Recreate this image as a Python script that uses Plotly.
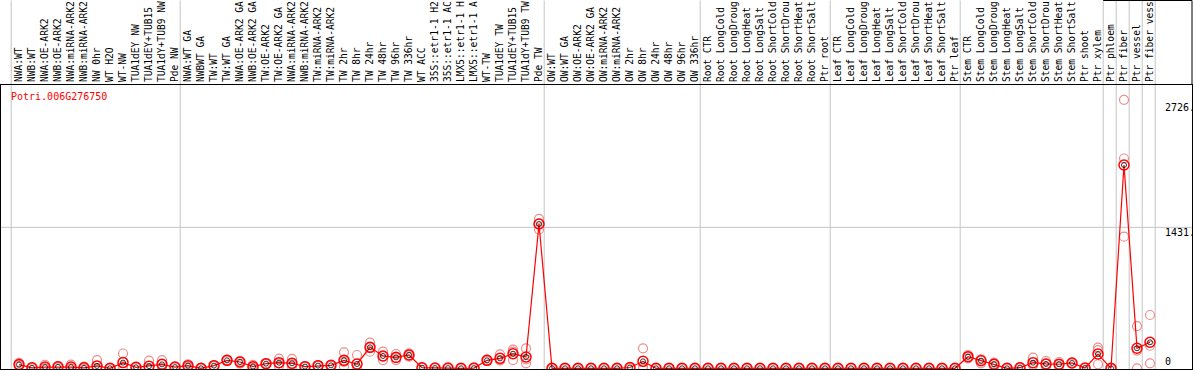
import plotly.graph_objects as go

# ---------------- data ----------------
labels = [
    "NWA:WT", "NWB:WT", "NWA:OE-ARK2", "NWB:OE-ARK2", "NWA:miRNA-ARK2", "NWB:miRNA-ARK2",
    "NW 0hr", "WT H2O", "WT-NW", "TUA1dEY NW", "TUA1dEY+TUB15", "TUA1dY+TUB9 NW", "Pde NW",
    "NWA:WT GA", "NWBWT GA", "TW:WT", "TW:WT GA", "NWA:OE-ARK2 GA", "NWB:OE-ARK2 GA",
    "TW:OE-ARK2", "TW:OE-ARK2 GA", "NWA:miRNA-ARK2", "NWB:miRNA-ARK2", "TW:miRNA-ARK2",
    "TW:miRNA-ARK2", "TW 2hr", "TW 8hr", "TW 24hr", "TW 48hr", "TW 96hr", "TW 336hr",
    "WT ACC", "35S::etr1-1 H2", "35S::etr1-1 AC", "LMX5::etr1-1 H", "LMX5::etr1-1 A",
    "WT-TW", "TUA1dEY TW", "TUA1dEY+TUB15", "TUA1dY+TUB9 TW", "Pde TW",
    "OW:WT", "OW:WT GA", "OW:OE-ARK2", "OW:OE-ARK2 GA", "OW:miRNA-ARK2", "OW:miRNA-ARK2",
    "OW 2hr", "OW 8hr", "OW 24hr", "OW 48hr", "OW 96hr", "OW 336hr",
    "Root CTR", "Root LongCold", "Root LongDroug", "Root LongHeat", "Root LongSalt",
    "Root ShortCold", "Root ShortDrou", "Root ShortHeat", "Root ShortSalt", "Ptr root",
    "Leaf CTR", "Leaf LongCold", "Leaf LongDroug", "Leaf LongHeat", "Leaf LongSalt",
    "Leaf ShortCold", "Leaf ShortDrou", "Leaf ShortHeat", "Leaf ShortSalt", "Ptr leaf",
    "Stem CTR", "Stem LongCold", "Stem LongDroug", "Stem LongHeat", "Stem LongSalt",
    "Stem ShortCold", "Stem ShortDrou", "Stem ShortHeat", "Stem ShortSalt", "Ptr shoot",
    "Ptr xylem", "Ptr phloem", "Ptr fiber", "Ptr vessel", "Ptr fiber vess",
]

means = [
    38, 5, 12, 15, 12, 5, 24, 0, 58, 10, 22, 40, 12,
    27, 0, 27, 81, 64, 17, 47, 57, 51, 17, 27, 30, 81, 44, 213, 125, 111, 135,
    6, 3, 2, 0, 2, 81, 101, 148, 115, 1465,
    0, 0, 0, 0, 0, 0, 8, 71, 0, 0, 0, 0,
    0, 0, 0, 0, 0, 0, 0, 0, 0, 0,
    0, 0, 0, 0, 0, 0, 0, 0, 0, 0,
    118, 77, 41, 0, 6, 57, 44, 41, 54, 3,
    145, 0, 2064, 203, 264,
]

rep1 = [
    55, 8, 36, 22, 38, 16, 84, 0, 150, 12, 78, 82, 15,
    41, 0, 30, 85, 74, 34, 50, 98, 95, 20, 30, 33, 162, 135, 260, 169, 145, 152,
    8, 4, 3, 0, 3, 88, 142, 190, 203, 1516,
    0, 0, 0, 0, 0, 0, 10, 203, 0, 0, 0, 0,
    0, 0, 0, 0, 0, 0, 0, 0, 0, 0,
    0, 0, 0, 0, 0, 0, 0, 0, 0, 0,
    135, 91, 57, 0, 10, 108, 74, 64, 58, 5,
    209, 0, 2726, 429, 541,
]

rep2 = [
    35, 5, 0, 15, 0, 0, 0, 0, 20, 10, 0, 41, 12,
    20, 0, 27, 80, 70, 12, 47, 50, 40, 17, 27, 30, 65, 0, 210, 122, 105, 135,
    6, 3, 2, 0, 2, 80, 81, 169, 91, 1470,
    0, 0, 0, 0, 0, 0, 6, 16, 0, 0, 0, 0,
    0, 0, 0, 0, 0, 0, 0, 0, 0, 0,
    0, 0, 0, 0, 0, 0, 0, 0, 0, 0,
    118, 89, 43, 0, 6, 33, 44, 40, 54, 3,
    185, 0, 2130, 180, 229,
]

rep3 = [
    25, 2, 0, 8, 0, 0, 0, 0, 5, 8, 0, 0, 9,
    12, 0, 24, 78, 48, 5, 44, 23, 18, 14, 24, 27, 16, 0, 169, 84, 84, 118,
    4, 2, 1, 0, 1, 75, 80, 84, 51, 1410,
    0, 0, 0, 0, 0, 0, 2, 0, 0, 0, 0, 0,
    0, 0, 0, 0, 0, 0, 0, 0, 0, 0,
    0, 0, 0, 0, 0, 0, 0, 0, 0, 0,
    101, 51, 23, 0, 2, 30, 14, 19, 50, 1,
    41, 0, 1336, 0, 51,
]

title_text = "Potri.006G276750"
ytick_vals = [2726, 1431, 0]
ytick_text = ["2726.", "1431.", "0"]
group_breaks = [-0.6, 12.4, 40.4, 52.4, 62.4, 72.4, 83.4, 84.4, 85.4, 86.4, 87.4]

# ---------------- figure ----------------
W, H = 1194, 370
ML, MR, MT, MB = 1, 2, 85, 1
PW = W - ML - MR
PH = H - MT - MB
X0PX, DX = 19, 13.0          # pixel of first sample, pixel spacing
ZERO_PX, PXU = 368.3, 0.0985  # pixel of y=0, pixels per unit

def py_paper(p):
    return (H - MB - p) / PH

idx = list(range(len(labels)))
x_lo = (ML - X0PX) / DX
x_hi = (ML + PW - X0PX) / DX
y_lo = (ZERO_PX - (H - MB)) / PXU
y_hi = (ZERO_PX - MT) / PXU

mono = "DejaVu Sans Mono"

fig = go.Figure()

rep_x, rep_y = [], []
for reps in (rep1, rep2, rep3):
    rep_x += idx
    rep_y += reps

fig.add_trace(go.Scatter(
    x=rep_x, y=rep_y, mode="markers", showlegend=False, hoverinfo="skip",
    marker=dict(symbol="circle-open", size=9, color="rgb(238,140,140)",
                line=dict(width=1.2)),
))
fig.add_trace(go.Scatter(
    x=idx, y=means, mode="lines+markers", showlegend=False,
    line=dict(color="red", width=1.2),
    marker=dict(symbol="circle-open", size=10, color="red", line=dict(width=1.5)),
))
fig.add_trace(go.Scatter(
    x=idx, y=means, mode="markers", showlegend=False, hoverinfo="skip",
    marker=dict(symbol="circle-open", size=5, color="black", line=dict(width=0.8)),
))

shapes = []
top_paper = py_paper(0.5)
for s in group_breaks:
    shapes.append(dict(type="line", xref="x", yref="paper", x0=s, x1=s,
                       y0=0, y1=top_paper, line=dict(color="#c4c4c4", width=1),
                       layer="below"))
shapes.append(dict(type="line", xref="paper", yref="y", x0=0, x1=1,
                   y0=ytick_vals[1], y1=ytick_vals[1],
                   line=dict(color="#c4c4c4", width=1), layer="below"))
shapes.append(dict(type="line", xref="x", yref="paper", x0=group_breaks[6], x1=x_hi,
                   y0=top_paper, y1=top_paper, line=dict(color="black", width=1)))
shapes.append(dict(type="line", xref="paper", yref="paper", x0=1, x1=1,
                   y0=1, y1=top_paper, line=dict(color="black", width=1)))

annotations = [dict(
    text=title_text, xref="paper", yref="paper",
    x=(9 - ML) / PW, y=py_paper(96.5), xanchor="left", yanchor="middle",
    showarrow=False, font=dict(family=mono, size=10, color="red"),
)]
yshifts = [-7.5, -5, 6.6]
for v, t, sh in zip(ytick_vals, ytick_text, yshifts):
    annotations.append(dict(
        text=t, xref="paper", yref="y", x=(1163 - ML) / PW, y=v,
        xanchor="left", yanchor="middle", yshift=sh, showarrow=False,
        font=dict(family=mono, size=10, color="black"),
    ))

fig.update_layout(
    width=W, height=H,
    margin=dict(l=ML, r=MR, t=MT, b=MB, autoexpand=False),
    paper_bgcolor="white", plot_bgcolor="white",
    showlegend=False,
    xaxis=dict(
        range=[x_lo, x_hi], side="top", tickmode="array", tickvals=idx,
        ticktext=labels, tickangle=-90, ticks="",
        tickfont=dict(family=mono, size=9.6, color="black"),
        showgrid=False, zeroline=False, showline=True, linecolor="black",
        linewidth=1, mirror=True,
    ),
    yaxis=dict(
        range=[y_lo, y_hi], showticklabels=False, showgrid=False, zeroline=False,
        showline=True, linecolor="black", linewidth=1, mirror=True, ticks="",
    ),
    shapes=shapes,
    annotations=annotations,
)

fig.write_html(
    "out.html",
    config={"displayModeBar": False},
    post_script="document.body.style.margin='0';document.body.style.padding='0';",
)
